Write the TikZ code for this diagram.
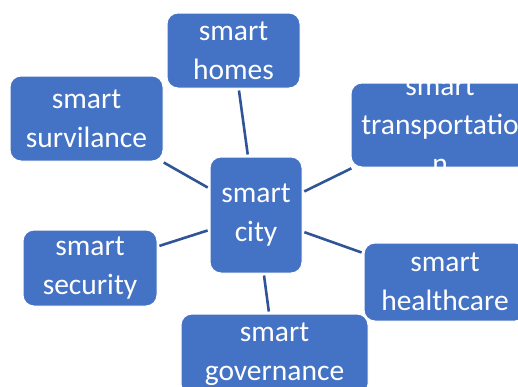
\documentclass[tikz,border=0pt]{standalone}
\usepackage{fontspec}
\setmainfont{Carlito}
\usepackage{xcolor}
\definecolor{boxblue}{HTML}{4472C4}
\definecolor{linkblue}{HTML}{2F5597}
\tikzset{
    box/.style={draw=white, line width=1pt, fill=boxblue, rounded corners=11pt, inner sep=0pt},
    boxtext/.style={text=white, align=center, font=\fontsize{29.5}{39}\selectfont},
    link/.style={draw=linkblue, line width=2.6pt, shorten <=2pt, shorten >=2pt}
}

\begin{document}
\begin{tikzpicture}[x=1pt, y=-1pt]
    \useasboundingbox (0,0) rectangle (518,386);
    \clip (0,0) rectangle (518,386);

    \node[box, minimum width=92pt, minimum height=116pt, label={[boxtext]center:{smart\\city}}] (city) at (256,215) {};
    \node[box, minimum width=133pt, minimum height=75pt, label={[boxtext]center:{smart\\homes}}] (homes) at (233.5,50.5) {};
    \node[box, minimum width=153pt, minimum height=85pt, label={[boxtext]center:{smart\\survilance}}] (surv) at (86.5,118.5) {};
    \node[box, minimum width=178pt, minimum height=84pt, label={[boxtext]center:{smart\\transportatio\\n}}] (trans) at (440,125) {};
    \node[box, minimum width=134pt, minimum height=76pt, label={[boxtext]center:{smart\\security}}] (sec) at (90,268) {};
    \node[box, minimum width=162pt, minimum height=78pt, label={[boxtext]center:{smart\\healthcare}}] (health) at (445,282) {};
    \node[box, minimum width=187pt, minimum height=81pt, label={[boxtext]center:{smart\\governance}}] (gov) at (274.5,354.5) {};

    \draw[link] (city) -- (homes);
    \draw[link] (city) -- (surv);
    \draw[link] (city) -- (trans);
    \draw[link] (city) -- (sec);
    \draw[link] (city) -- (health);
    \draw[link] (city) -- (gov);
\end{tikzpicture}
\end{document}
